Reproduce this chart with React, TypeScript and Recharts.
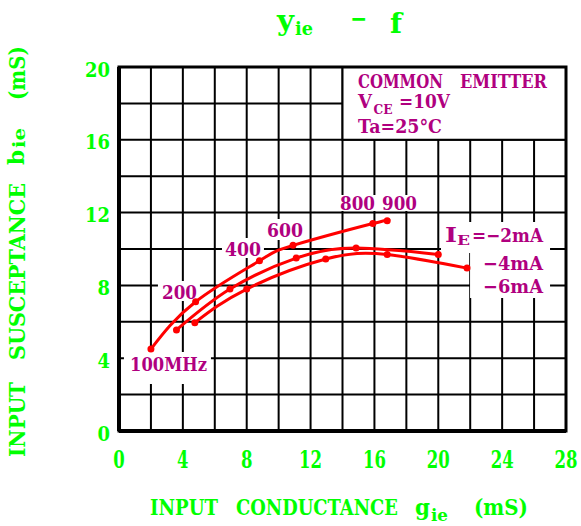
import React from 'react';
import { LineChart, Line, XAxis, YAxis, CartesianGrid, ReferenceArea } from 'recharts';

// ---- axes ----
const xGrid = [0, 2, 4, 6, 8, 10, 12, 14, 16, 18, 20, 22, 24, 26, 28];
const xTickLabels = [0, 4, 8, 12, 16, 20, 24, 28];
const yGrid = [0, 2, 4, 6, 8, 10, 12, 14, 16, 18, 20];
const yTickLabels = [0, 4, 8, 12, 16, 20];

// ---- series: g_ie (mS) / b_ie (mS) ----
const ie2G = [2.0, 4.8, 8.8, 10.9, 15.9, 16.8];
const ie2B = [4.5, 7.1, 9.35, 10.2, 11.4, 11.55];
const ie4G = [3.6, 6.95, 11.1, 14.85, 20.0];
const ie4B = [5.55, 7.8, 9.5, 10.05, 9.7];
const ie6G = [4.75, 8.0, 12.95, 16.8, 21.8];
const ie6B = [5.95, 7.8, 9.45, 9.7, 8.95];

const toPts = (g: number[], b: number[]) => g.map((v, i) => ({ g: v, b: b[i] }));
const ie2 = toPts(ie2G, ie2B);
const ie4 = toPts(ie4G, ie4B);
const ie6 = toPts(ie6G, ie6B);

const GREEN = '#00ff00';
const MAG = '#b0007f';
const RED = '#ff0000';
const FAMILY = "'DejaVu Serif'";
const FONT = "'DejaVu Serif', 'Liberation Serif', serif";

let ctx: CanvasRenderingContext2D | null = null;
function measure(text: string, size: number): number {
  if (!ctx && typeof document !== 'undefined') ctx = document.createElement('canvas').getContext('2d');
  if (!ctx) return 0;
  ctx.font = `bold ${size}px ${FAMILY}`;
  return ctx.measureText(text).width;
}

type TProps = {
  x: number; y: number; size: number; w?: number; sy?: number; rot?: number;
  anchor?: 'start' | 'middle' | 'end'; fill: string; children: string;
};
function T({ x, y, size, w, sy = 1, rot = 0, anchor = 'start', fill, children }: TProps) {
  const nat = w ? measure(children, size) : 0;
  const sx = w && nat > 0 ? w / nat : 1;
  return (
    <text
      transform={`translate(${x},${y})${rot ? ` rotate(${rot})` : ''} scale(${sx.toFixed(4)},${sy})`}
      fontFamily={FONT}
      fontWeight="bold"
      fontSize={size}
      fill={fill}
      textAnchor={anchor}
    >
      {children}
    </text>
  );
}

const XTick = (p: any) => {
  const v = p.payload.value;
  if (!xTickLabels.includes(v)) return <g />;
  const s = String(v);
  return <T x={p.x} y={p.y + 37} size={20} sy={1.22} w={s.length * 11.5} anchor="middle" fill={GREEN}>{s}</T>;
};
const YTick = (p: any) => {
  const v = p.payload.value;
  if (!yTickLabels.includes(v)) return <g />;
  const s = String(v);
  return <T x={p.x - 9} y={p.y + 9.5} size={20} sy={1.02} w={s.length * 12.5} anchor="end" fill={GREEN}>{s}</T>;
};

export default function App() {
  const masks = [
    [0.31, 5.76, 2.58, 4.34],
    [2.44, 5.07, 7.14, 8.24],
    [6.45, 9.08, 9.51, 10.6],
    [9.08, 11.71, 10.49, 11.65],
    [13.66, 18.85, 12.09, 12.97],
    [20.17, 27.0, 9.78, 11.48],
    [21.99, 27.0, 7.31, 9.78],
  ];
  const lineProps = {
    type: 'natural' as const,
    dataKey: 'b',
    stroke: RED,
    strokeWidth: 3,
    dot: { r: 3.5, fill: RED, stroke: RED, strokeWidth: 0 },
    activeDot: false as const,
    isAnimationActive: false,
  };
  return (
    <div style={{ position: 'relative', width: 581, height: 526, overflow: 'hidden' }}>
      <style>{'html,body{margin:0;padding:0;}'}</style>
      <LineChart width={581} height={526} margin={{ top: 67, right: 15, bottom: 65, left: 59 }}>
        <CartesianGrid stroke="#000" strokeWidth={2} strokeDasharray="" />
        <XAxis
          type="number"
          dataKey="g"
          domain={[0, 28]}
          ticks={xGrid}
          interval={0}
          height={30}
          tickSize={0}
          tickMargin={0}
          tickLine={false}
          axisLine={{ stroke: '#000', strokeWidth: 4 }}
          tick={XTick}
          allowDataOverflow
        />
        <YAxis
          type="number"
          domain={[0, 20]}
          ticks={yGrid}
          interval={0}
          width={60}
          tickSize={0}
          tickMargin={0}
          tickLine={false}
          axisLine={{ stroke: '#000', strokeWidth: 4 }}
          tick={YTick}
          allowDataOverflow
        />
        {masks.map((m, i) => (
          <ReferenceArea key={i} x1={m[0]} x2={m[1]} y1={m[2]} y2={m[3]} fill="#fff" fillOpacity={1} stroke="none" />
        ))}
        <ReferenceArea x1={14} x2={28} y1={16} y2={20} fill="#fff" fillOpacity={1} stroke="#000" strokeWidth={2} />
        <ReferenceArea x1={0} x2={28} y1={0} y2={20} fill="none" stroke="#000" strokeWidth={3} />
        <Line {...lineProps} data={ie2} />
        <Line {...lineProps} data={ie4} />
        <Line {...lineProps} data={ie6} />
      </LineChart>
      <svg width={581} height={526} style={{ position: 'absolute', left: 0, top: 0, pointerEvents: 'none', display: 'block' }}>
        {/* title */}
        <T x={277} y={30} size={26} w={17} sy={1.1} fill={GREEN}>y</T>
        <T x={295} y={35} size={18} w={18} fill={GREEN}>ie</T>
        <T x={350} y={27} size={24} w={17} fill={GREEN}>−</T>
        <T x={390} y={33} size={26} w={12} sy={1.1} fill={GREEN}>f</T>
        {/* x title */}
        <T x={150} y={515} size={21} w={68} sy={1.1} fill={GREEN}>INPUT</T>
        <T x={236} y={515} size={21} w={162} sy={1.1} fill={GREEN}>CONDUCTANCE</T>
        <T x={415} y={515} size={21} w={15} sy={1.1} fill={GREEN}>g</T>
        <T x={431} y={521} size={15} w={17} sy={1.1} fill={GREEN}>ie</T>
        <T x={474} y={515} size={21} w={54} sy={1.1} fill={GREEN}>(mS)</T>
        {/* y title */}
        <T x={25} y={457} size={23} w={75} rot={-90} fill={GREEN}>INPUT</T>
        <T x={25} y={360} size={23} w={177} rot={-90} fill={GREEN}>SUSCEPTANCE</T>
        <T x={24} y={165} size={23} w={15} rot={-90} fill={GREEN}>b</T>
        <T x={25} y={148} size={17} w={20} rot={-90} fill={GREEN}>ie</T>
        <T x={25} y={100} size={23} w={54} rot={-90} fill={GREEN}>(mS)</T>
        {/* legend box */}
        <T x={358} y={88} size={18} w={85} fill={MAG}>COMMON</T>
        <T x={460} y={88} size={18} w={87} fill={MAG}>EMITTER</T>
        <T x={358} y={108} size={18} w={14} fill={MAG}>V</T>
        <T x={373.5} y={113.5} size={12} w={19} sy={1.05} fill={MAG}>CE</T>
        <T x={399} y={108} size={18} w={51} fill={MAG}>=10V</T>
        <T x={358} y={133} size={18} w={84} fill={MAG}>Ta=25°C</T>
        {/* frequency labels */}
        <T x={340} y={210} size={19} w={35} fill={MAG}>800</T>
        <T x={382} y={210} size={19} w={35} fill={MAG}>900</T>
        <T x={267} y={237} size={19} w={36} fill={MAG}>600</T>
        <T x={225} y={256} size={19} w={36} fill={MAG}>400</T>
        <T x={162} y={299} size={19} w={35} fill={MAG}>200</T>
        <T x={130} y={371} size={19} w={77} fill={MAG}>100MHz</T>
        {/* current labels */}
        <T x={445} y={241.5} size={20} w={12} fill={MAG}>I</T>
        <T x={457} y={245} size={13} w={13} fill={MAG}>E</T>
        <T x={472} y={241.5} size={19} w={71} fill={MAG}>=−2mA</T>
        <T x={483} y={270} size={19} w={60} fill={MAG}>−4mA</T>
        <T x={483} y={293} size={19} w={60} fill={MAG}>−6mA</T>
      </svg>
    </div>
  );
}
